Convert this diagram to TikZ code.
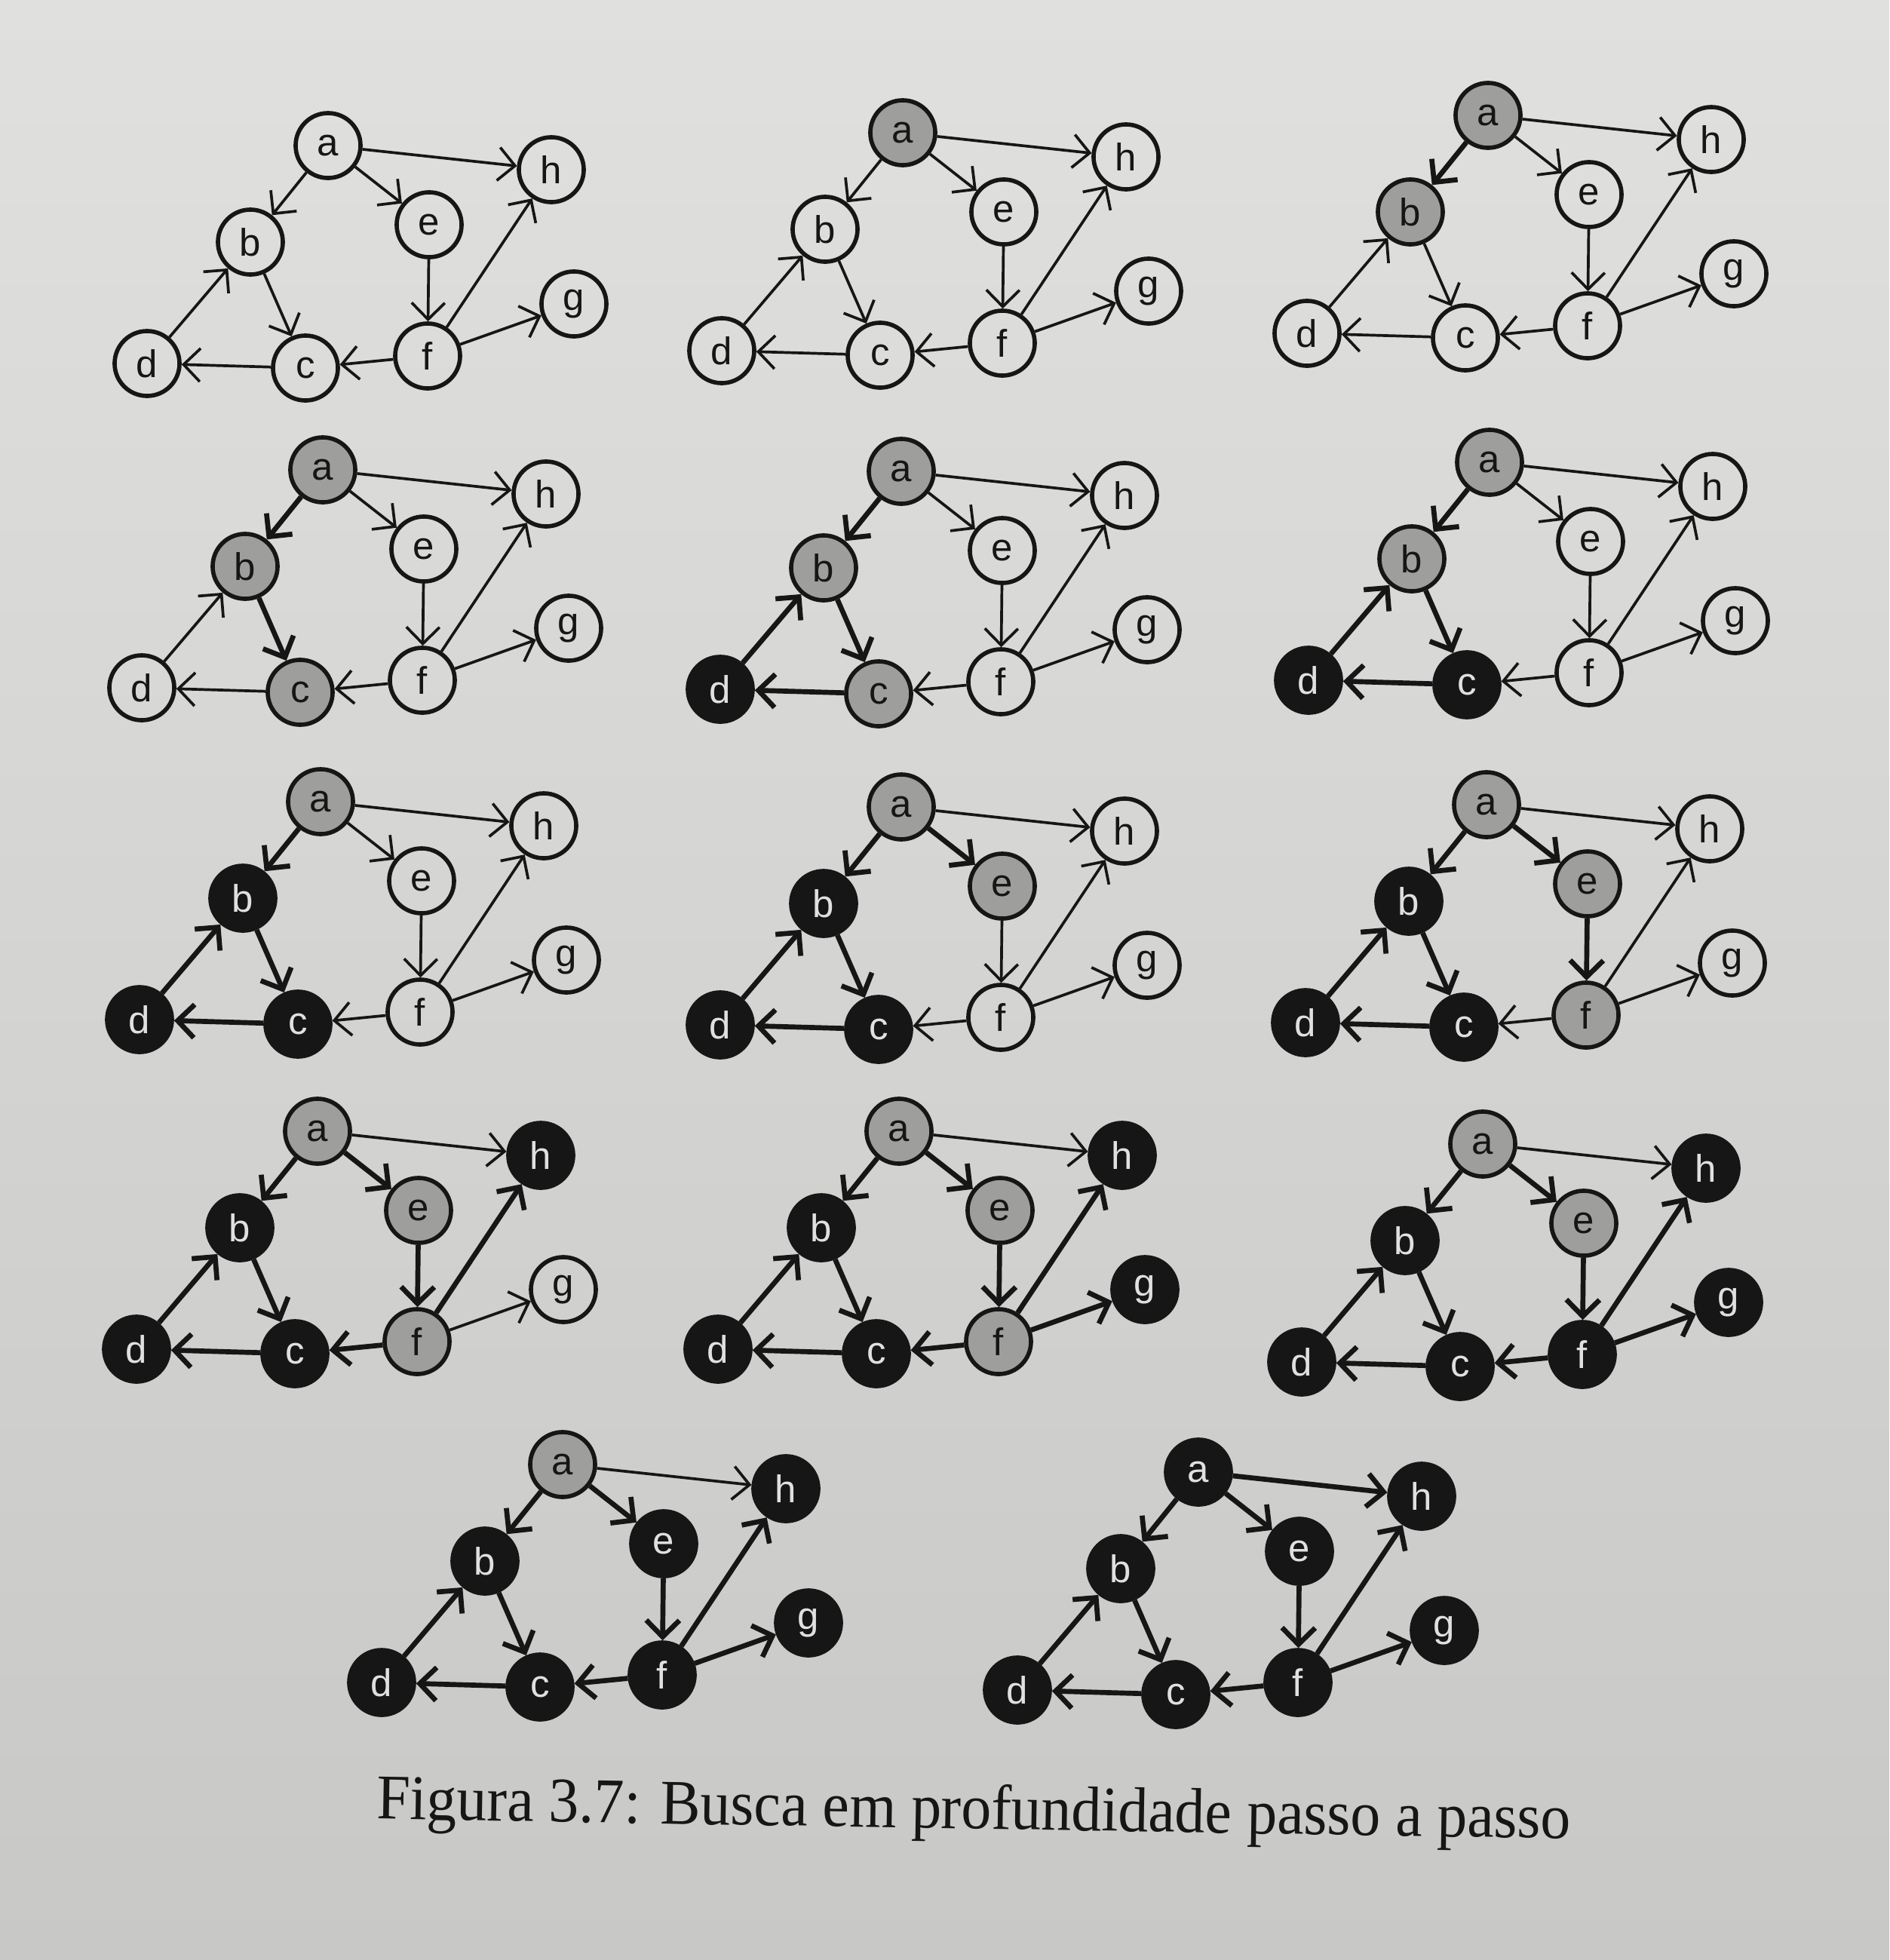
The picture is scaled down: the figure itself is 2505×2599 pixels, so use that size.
\documentclass[tikz,border=0pt]{standalone}
\usepackage{fontspec}
\setmainfont{Liberation Serif}
\setsansfont{Liberation Sans}
\usetikzlibrary{arrows.meta}

\definecolor{paperA}{RGB}{224,224,222}
\definecolor{paperB}{RGB}{200,200,198}
\definecolor{halftone}{RGB}{158,158,156}
\definecolor{ink}{RGB}{22,22,22}

\begin{document}
\begin{tikzpicture}[x=0.01cm,y=-0.01cm,>={Straight Barb[length=2.2mm,width=4.4mm]},
    vtx/.style={circle,draw=ink,line width=1.6pt,minimum size=0.86cm,inner sep=0pt,
      text=ink,font=\sffamily\fontsize{14.5}{14.5}\selectfont},
    wht/.style={vtx},
    gry/.style={vtx,fill=halftone},
    blk/.style={vtx,fill=ink,text=white!88!black},
    arc/.style={->,draw=ink,line width=1.05pt},
    tree/.style={->,draw=ink,line width=1.9pt}]
\fill[top color=paperA,bottom color=paperB] (0,0) rectangle (2505,2599);
% step / position of a / colours of a..h / explored edges
\foreach \s/\ax/\ay/\ca/\cb/\cc/\cd/\ce/\cf/\cg/\ch/\k in {
    1/435/193/wht/wht/wht/wht/wht/wht/wht/wht/0,
    2/1197/176/gry/wht/wht/wht/wht/wht/wht/wht/0,
    3/1973/153/gry/gry/wht/wht/wht/wht/wht/wht/1,
    4/428/623/gry/gry/gry/wht/wht/wht/wht/wht/2,
    5/1195/625/gry/gry/gry/blk/wht/wht/wht/wht/4,
    6/1975/613/gry/gry/blk/blk/wht/wht/wht/wht/4,
    7/425/1063/gry/blk/blk/blk/wht/wht/wht/wht/4,
    8/1195/1070/gry/blk/blk/blk/gry/wht/wht/wht/5,
    9/1971/1067/gry/blk/blk/blk/gry/gry/wht/wht/6,
    10/421/1500/gry/blk/blk/blk/gry/gry/wht/blk/8,
    11/1192/1500/gry/blk/blk/blk/gry/gry/blk/blk/9,
    12/1966/1517/gry/blk/blk/blk/gry/blk/blk/blk/9,
    13/746/1942/gry/blk/blk/blk/blk/blk/blk/blk/9,
    14/1589/1952/blk/blk/blk/blk/blk/blk/blk/blk/10} {
  \begin{scope}[shift={(\ax,\ay)}]
    \node[\ca] (a\s) at (0,0) {a};
    \node[\cb] (b\s) at (-103,128) {b};
    \node[\cc] (c\s) at (-30,295) {c};
    \node[\cd] (d\s) at (-240,289) {d};
    \node[\ce] (e\s) at (134,105) {e};
    \node[\cf] (f\s) at (132,279) {f};
    \node[\cg] (g\s) at (326,210) {g};
    \node[\ch] (h\s) at (296,32) {h};
    \foreach \u/\v [count=\i] in {a/b,b/c,c/d,d/b,a/e,e/f,f/c,f/h,f/g,a/h} {
      \ifnum\i>\k
        \draw[arc] (\u\s) -- (\v\s);
      \else
        \draw[tree] (\u\s) -- (\v\s);
      \fi
    }
  \end{scope}
}
\node[rotate=-0.95,anchor=base,text=ink,font=\fontsize{24}{24}\selectfont] (caption) at (1291,2425)
  {\scalebox{0.945}[1]{Figura 3.7: Busca em profundidade passo a passo}};
\end{tikzpicture}
\end{document}
